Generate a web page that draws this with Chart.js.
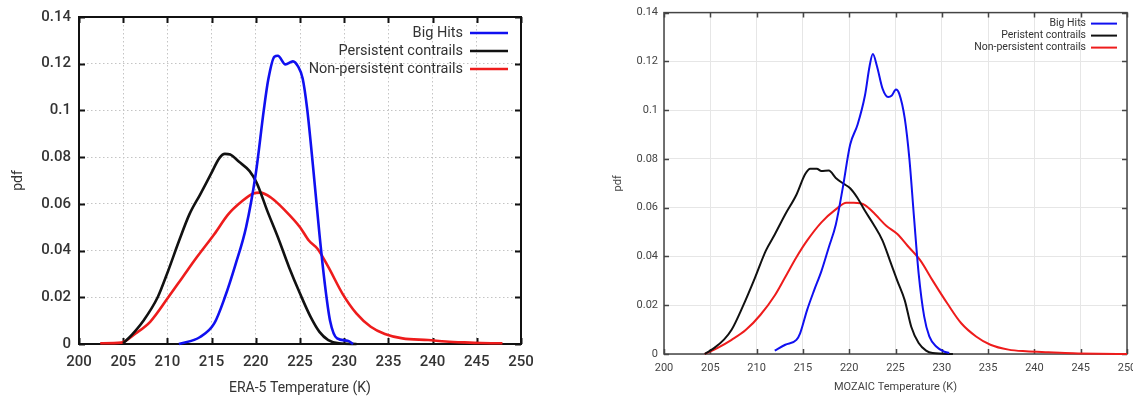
<!DOCTYPE html>
<html>
<head>
<meta charset="utf-8">
<script src="https://cdn.jsdelivr.net/npm/chart.js@4.4.1/dist/chart.umd.min.js"></script>
<style>
  html, body { margin: 0; padding: 0; background: #fff; }
  body { width: 1133px; height: 398px; overflow: hidden; position: relative; }
  #left { position: absolute; left: 0; top: 0; }
  #right { position: absolute; left: 605px; top: 0; }
</style>
</head>
<body>
<canvas id="left" width="560" height="398"></canvas>
<canvas id="right" width="548" height="398"></canvas>
<script>
// labels
const seriesLabels = ['Big Hits', 'Persistent contrails', 'Non-persistent contrails'];
const mozaicLabels = ['Big Hits', 'Peristent contrails', 'Non-persistent contrails'];
const seriesColors = ['#1010f0', '#111111', '#ee1c1c'];

// ERA-5 (left panel)
const eraBigT   = [211.3, 213.7, 215.3, 216.5, 217.7, 218.9, 220.0, 220.9, 221.4, 222.1, 222.5, 223.35, 224.2, 224.8, 225.3, 225.8, 226.5, 227.2, 227.8, 228.4, 229.2, 230.4, 231.0];
const eraBigPdf = [0, 0.003, 0.0088, 0.02, 0.034, 0.05, 0.073, 0.1, 0.113, 0.123, 0.1234, 0.1197, 0.121, 0.1187, 0.1137, 0.101, 0.075, 0.047, 0.026, 0.010, 0.0024, 0.0014, 0];

const eraPersT   = [205.0, 206.0, 207.2, 208.9, 210.1, 211.3, 212.5, 213.7, 214.9, 215.9, 216.5, 217.1, 218.1, 219.3, 220.1, 221.3, 222.5, 223.75, 225.0, 226.2, 227.2, 228.2, 229.4, 231.4];
const eraPersPdf = [0.0003, 0.004, 0.0095, 0.02, 0.0315, 0.044, 0.0556, 0.064, 0.0726, 0.0797, 0.0814, 0.0811, 0.078, 0.074, 0.069, 0.057, 0.0457, 0.033, 0.0216, 0.0116, 0.0052, 0.0017, 0.0003, 0];

const eraNonT   = [202.4, 204.8, 206.4, 208.05, 210.1, 211.7, 213.3, 215.3, 216.9, 218.5, 219.7, 220.5, 221.7, 223.35, 225.0, 226.0, 227.0, 228.2, 229.8, 231.4, 233.0, 234.6, 236.6, 239.5, 241.5, 243.5, 245.5, 247.9];
const eraNonPdf = [0.0003, 0.0006, 0.0045, 0.0095, 0.02, 0.0285, 0.037, 0.047, 0.0556, 0.0613, 0.0644, 0.0648, 0.0627, 0.057, 0.05, 0.0443, 0.0407, 0.033, 0.0216, 0.013, 0.0074, 0.0043, 0.0024, 0.0017, 0.0011, 0.0007, 0.0004, 0.0003];

// MOZAIC (right panel)
const mozBigT   = [211.96, 213.1, 214.3, 214.7, 215.45, 216.2, 217.0, 217.8, 218.55, 219.3, 220.1, 220.9, 221.7, 222.2, 222.55, 223.0, 223.6, 224.2, 224.6, 225.05, 225.4, 226.0, 226.5, 227.0, 227.5, 228.1, 228.65, 229.4, 230.2, 230.8];
const mozBigPdf = [0.0014, 0.0038, 0.0058, 0.0085, 0.018, 0.026, 0.034, 0.0438, 0.053, 0.068, 0.0858, 0.094, 0.106, 0.118, 0.123, 0.118, 0.1088, 0.1054, 0.106, 0.1085, 0.1068, 0.0966, 0.080, 0.056, 0.033, 0.0153, 0.0072, 0.0031, 0.0011, 0.0004];

const mozPersT   = [204.4, 205.4, 206.5, 207.3, 208.5, 209.8, 211.0, 211.96, 213.1, 214.3, 215.25, 215.8, 216.5, 217.0, 217.8, 218.55, 219.4, 220.1, 220.9, 221.7, 222.6, 223.6, 224.4, 225.2, 226.0, 226.7, 227.5, 228.3, 229.0, 231.2];
const mozPersPdf = [0, 0.0024, 0.006, 0.0099, 0.0194, 0.031, 0.0424, 0.049, 0.0573, 0.0653, 0.0738, 0.076, 0.076, 0.075, 0.0752, 0.0722, 0.0698, 0.068, 0.064, 0.0587, 0.0533, 0.0465, 0.0383, 0.030, 0.022, 0.0112, 0.0045, 0.0014, 0.0004, 0];

const mozNonT   = [204.4, 205.75, 207.3, 208.85, 210.4, 211.96, 213.1, 214.3, 215.45, 217.0, 218.55, 219.7, 220.5, 221.7, 222.8, 224.0, 225.2, 226.3, 227.7, 229.0, 230.6, 232.1, 233.7, 235.25, 237.2, 239.1, 241.5, 244.2, 246.9, 250.0];
const mozNonPdf = [0, 0.0024, 0.0058, 0.0099, 0.016, 0.024, 0.0316, 0.0397, 0.0465, 0.054, 0.0593, 0.062, 0.062, 0.0611, 0.0573, 0.0526, 0.0492, 0.0444, 0.0383, 0.0302, 0.0207, 0.0126, 0.0072, 0.0038, 0.0018, 0.0011, 0.0007, 0.0003, 0.0001, 0];

// axis ticks
const xTicks = [200, 205, 210, 215, 220, 225, 230, 235, 240, 245, 250];
const yTicks = [0, 0.02, 0.04, 0.06, 0.08, 0.1, 0.12, 0.14];

const pts = (xs, ys) => xs.map((x, i) => ({ x: x, y: ys[i] }));

// gnuplot-like box, inward ticks and legend
const framePlugin = {
  id: 'frame',
  beforeDatasetsDraw(chart, args, o) {
    const { ctx, chartArea: a, scales: { x, y } } = chart;
    ctx.save();
    ctx.strokeStyle = o.color;
    ctx.lineWidth = o.width;
    ctx.beginPath();
    xTicks.forEach(v => {
      const px = Math.round(x.getPixelForValue(v)) + 0.5;
      ctx.moveTo(px, a.bottom); ctx.lineTo(px, a.bottom - o.len);
      ctx.moveTo(px, a.top); ctx.lineTo(px, a.top + o.len);
    });
    yTicks.forEach(v => {
      const py = Math.round(y.getPixelForValue(v)) + 0.5;
      ctx.moveTo(a.left, py); ctx.lineTo(a.left + o.len, py);
      ctx.moveTo(a.right, py); ctx.lineTo(a.right - o.len, py);
    });
    ctx.stroke();
    ctx.strokeRect(a.left, a.top, a.right - a.left, a.bottom - a.top);
    ctx.restore();
  },
  afterDatasetsDraw(chart, args, o) {
    const { ctx, chartArea: a } = chart;
    const lg = o.legend;
    ctx.save();
    ctx.font = lg.font;
    ctx.fillStyle = lg.textColor;
    ctx.textAlign = 'right';
    ctx.textBaseline = 'middle';
    chart.data.datasets.forEach((ds, i) => {
      const yy = a.top + lg.top + i * lg.spacing;
      const lineEnd = a.right - lg.right;
      const lineStart = lineEnd - lg.lineLen;
      ctx.fillText(ds.label, lineStart - lg.gap, yy);
      ctx.strokeStyle = ds.borderColor;
      ctx.lineWidth = lg.lineWidth;
      ctx.beginPath();
      ctx.moveTo(lineStart, yy); ctx.lineTo(lineEnd, yy);
      ctx.stroke();
    });
    ctx.restore();
  }
};

function makeChart(id, labels, data, s) {
  return new Chart(document.getElementById(id), {
    type: 'line',
    data: {
      datasets: data.map((d, i) => ({
        label: labels[i],
        data: d,
        borderColor: seriesColors[i],
        borderWidth: s.lineWidth,
        pointRadius: 0,
        cubicInterpolationMode: 'monotone',
        fill: false,
        clip: 4
      }))
    },
    options: {
      responsive: false,
      animation: false,
      events: [],
      layout: { padding: s.padding },
      plugins: {
        legend: { display: false },
        tooltip: { enabled: false },
        frame: s.frame
      },
      scales: {
        x: {
          type: 'linear',
          min: 200, max: 250,
          afterFit: sc => { sc.height = s.xHeight; },
          afterBuildTicks: sc => { sc.ticks = xTicks.map(v => ({ value: v })); },
          ticks: { padding: s.xTickPad, color: s.tickColor, font: s.tickFont },
          grid: { color: s.gridColor, lineWidth: 1, drawTicks: false },
          border: { display: false, dash: s.gridDash },
          title: { display: true, text: s.xTitle, color: s.titleColor, font: s.titleFont, padding: { top: 0, bottom: s.xTitlePad } }
        },
        y: {
          type: 'linear',
          min: 0, max: 0.14,
          afterFit: sc => { sc.width = s.yWidth; },
          afterBuildTicks: sc => { sc.ticks = yTicks.map(v => ({ value: v })); },
          ticks: {
            padding: s.yTickPad, color: s.tickColor, font: s.tickFont,
            callback: v => String(+v.toFixed(2))
          },
          grid: { color: s.gridColor, lineWidth: 1, drawTicks: false },
          border: { display: false, dash: s.gridDash },
          title: { display: true, text: 'pdf', color: s.titleColor, font: s.titleFont, padding: { top: s.yTitlePad, bottom: 0 } }
        }
      }
    },
    plugins: [framePlugin]
  });
}

makeChart('left', seriesLabels,
  [pts(eraBigT, eraBigPdf), pts(eraPersT, eraPersPdf), pts(eraNonT, eraNonPdf)],
  {
    lineWidth: 2.6,
    padding: { left: 0, top: 16, right: 39, bottom: 0 },
    xHeight: 54, yWidth: 79,
    xTickPad: 9, yTickPad: 8,
    xTitlePad: 1, yTitlePad: 10,
    tickColor: '#333', titleColor: '#333',
    tickFont: { family: 'Roboto', size: 15, weight: '500' },
    titleFont: { family: 'Roboto', size: 14 },
    gridColor: '#c4c4c4', gridDash: [1.5, 2.5],
    xTitle: 'ERA-5 Temperature (K)',
    frame: {
      color: '#111', width: 2, len: 6,
      legend: { font: '14.5px Roboto', textColor: '#333', top: 16, spacing: 18, right: 13, lineLen: 38, gap: 7, lineWidth: 2.6 }
    }
  });

makeChart('right', mozaicLabels,
  [pts(mozBigT, mozBigPdf), pts(mozPersT, mozPersPdf), pts(mozNonT, mozNonPdf)],
  {
    lineWidth: 2,
    padding: { left: 0, top: 10, right: 26, bottom: 0 },
    xHeight: 44, yWidth: 59,
    xTickPad: 8, yTickPad: 6,
    xTitlePad: 4, yTitlePad: 7,
    tickColor: '#444', titleColor: '#444',
    tickFont: { family: 'Roboto', size: 11 },
    titleFont: { family: 'Roboto', size: 11 },
    gridColor: '#e6e6e6', gridDash: [],
    xTitle: 'MOZAIC Temperature (K)',
    frame: {
      color: '#444', width: 1.5, len: 5,
      legend: { font: '10.5px Roboto', textColor: '#333', top: 11, spacing: 12, right: 10, lineLen: 26, gap: 5, lineWidth: 2 }
    }
  });
</script>
</body>
</html>
